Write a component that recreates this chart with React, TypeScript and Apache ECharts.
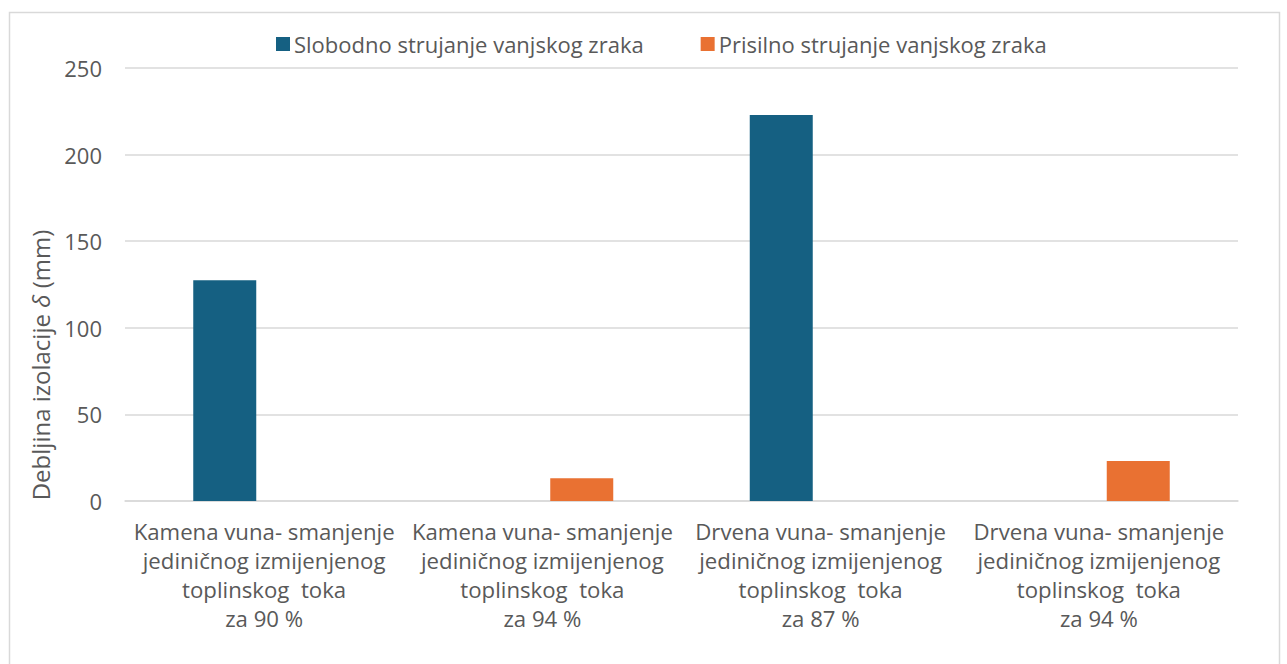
import React, { useEffect, useRef } from "react";
import * as echarts from "echarts";

const categories = [
  "Kamena vuna- smanjenje\njediničnog izmijenjenog\ntoplinskog  toka\nza 90 %",
  "Kamena vuna- smanjenje\njediničnog izmijenjenog\ntoplinskog  toka\nza 94 %",
  "Drvena vuna- smanjenje\njediničnog izmijenjenog\ntoplinskog  toka\nza 87 %",
  "Drvena vuna- smanjenje\njediničnog izmijenjenog\ntoplinskog  toka\nza 94 %",
];
const seriesNames = ["Slobodno strujanje vanjskog zraka", "Prisilno strujanje vanjskog zraka"];
const slobodno = [127.5, null, 222.8, null];
const prisilno = [null, 13.2, null, 23.1];
const yTicks = { min: 0, max: 250, interval: 50 };

const FONT = "Open Sans";
const TXT = "#595959";

export default function App() {
  const ref = useRef<HTMLDivElement>(null);
  useEffect(() => {
    const chart = echarts.init(ref.current!, null, { renderer: "svg" });
    chart.setOption({
      animation: false,
      backgroundColor: "#ffffff",
      textStyle: { fontFamily: FONT, color: TXT },
      graphic: [
        {
          type: "rect",
          shape: { x: 9.5, y: 12.5, width: 1270, height: 700 },
          style: { fill: "none", stroke: "#d9d9d9", lineWidth: 1.5 },
          silent: true,
          z: -1,
        },
        {
          type: "text",
          x: 40,
          y: 365,
          rotation: Math.PI / 2,
          style: {
            text: "{n|Debljina izolacije }{i|δ}{n| (mm)}",
            align: "center",
            verticalAlign: "middle",
            rich: {
              n: { fontFamily: FONT, fontSize: 24, fill: TXT, color: TXT },
              i: { fontFamily: FONT, fontSize: 24, fontStyle: "italic", fill: TXT, color: TXT },
            },
          },
        },
      ],
      legend: {
        top: 28,
        left: 271,
        itemWidth: 14,
        itemHeight: 14,
        itemGap: 57,
        icon: "rect",
        textStyle: { fontFamily: FONT, fontSize: 22, color: TXT, padding: [0, 0, 0, -1] },
        data: seriesNames,
      },
      grid: { left: 125, right: 49, top: 68, bottom: 163, containLabel: false },
      xAxis: {
        type: "category",
        data: categories,
        axisLine: { lineStyle: { color: "#d9d9d9", width: 1.5 } },
        axisTick: { show: false },
        axisLabel: {
          interval: 0,
          margin: 16,
          fontFamily: FONT,
          fontSize: 22.2,
          lineHeight: 29,
          color: TXT,
          align: "center",
        },
      },
      yAxis: {
        type: "value",
        min: yTicks.min,
        max: yTicks.max,
        interval: yTicks.interval,
        axisLine: { show: false },
        axisTick: { show: false },
        splitLine: { lineStyle: { color: "#d9d9d9", width: 1.5 } },
        axisLabel: { margin: 23, fontFamily: FONT, fontSize: 22, color: TXT },
      },
      series: [
        {
          name: seriesNames[0],
          type: "bar",
          data: slobodno,
          barWidth: 63,
          barGap: "25%",
          itemStyle: { color: "#156082" },
        },
        {
          name: seriesNames[1],
          type: "bar",
          data: prisilno,
          barWidth: 63,
          barGap: "25%",
          itemStyle: { color: "#E97132" },
        },
      ],
    });
    return () => chart.dispose();
  }, []);
  return <div ref={ref} style={{ width: 1287, height: 664, position: "absolute", left: 0, top: 0 }} />;
}
